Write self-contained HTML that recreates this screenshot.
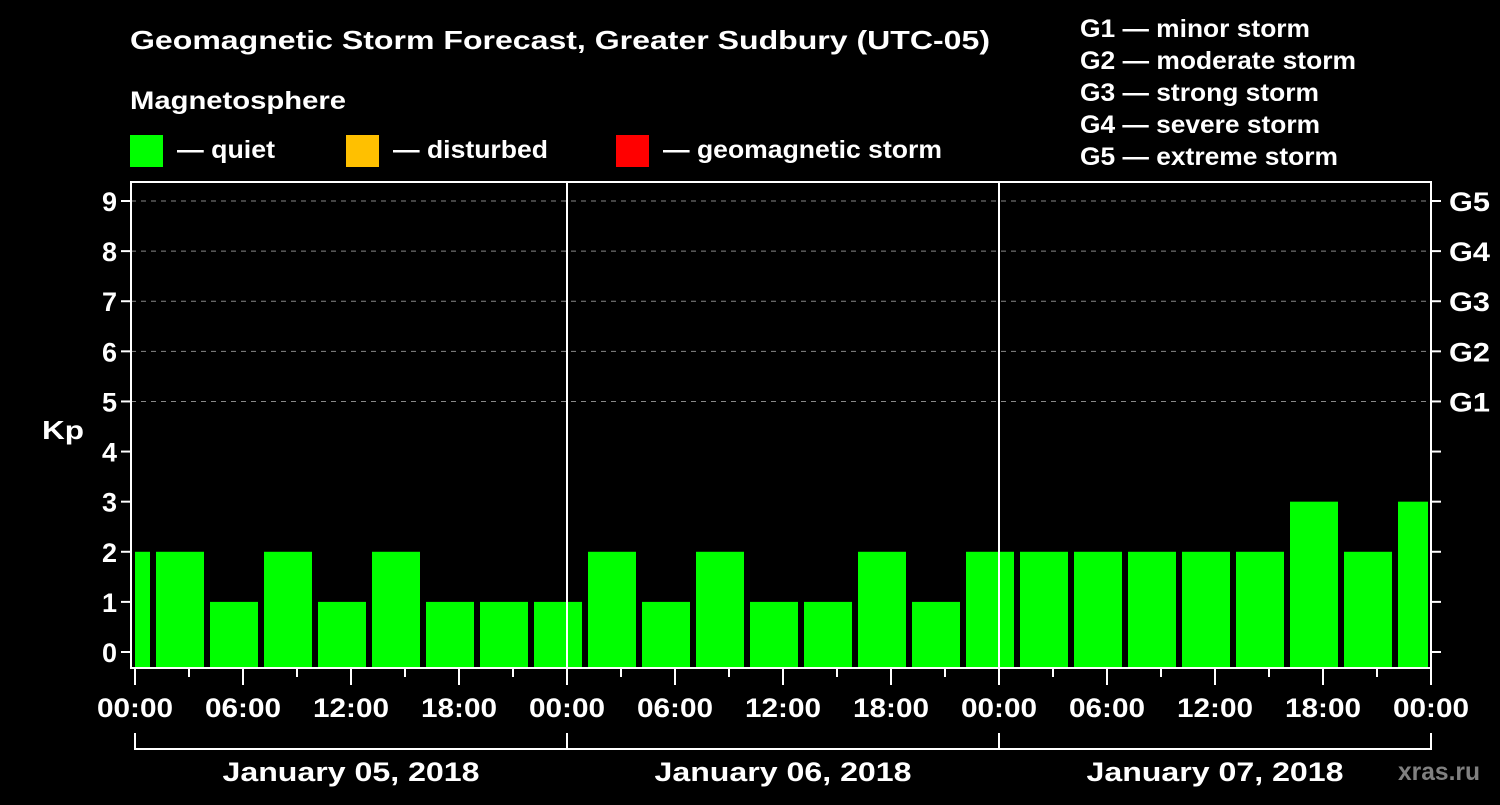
<!DOCTYPE html>
<html><head><meta charset="utf-8"><style>
body{margin:0;background:#000;width:1500px;height:800px;overflow:hidden}
svg text{font-family:"Liberation Sans",sans-serif;font-weight:bold;fill:#fff}
</style></head><body>
<svg id="c" width="1500" height="800">
<text x="130" y="49" font-size="26" textLength="860" lengthAdjust="spacingAndGlyphs">Geomagnetic Storm Forecast, Greater Sudbury (UTC-05)</text>
<text x="130" y="109" font-size="25" textLength="216" lengthAdjust="spacingAndGlyphs">Magnetosphere</text>
<rect x="130" y="135" width="33" height="32" fill="#00ff00"/>
<text x="177" y="158" font-size="25" textLength="98" lengthAdjust="spacingAndGlyphs">— quiet</text>
<rect x="346" y="135" width="33" height="32" fill="#ffc000"/>
<text x="393" y="158" font-size="25" textLength="155" lengthAdjust="spacingAndGlyphs">— disturbed</text>
<rect x="616" y="135" width="33" height="32" fill="#ff0000"/>
<text x="663" y="158" font-size="25" textLength="279" lengthAdjust="spacingAndGlyphs">— geomagnetic storm</text>
<g font-size="25">
<text x="1080" y="37" textLength="230" lengthAdjust="spacingAndGlyphs">G1 — minor storm</text>
<text x="1080" y="69" textLength="276" lengthAdjust="spacingAndGlyphs">G2 — moderate storm</text>
<text x="1080" y="101" textLength="239" lengthAdjust="spacingAndGlyphs">G3 — strong storm</text>
<text x="1080" y="133" textLength="240" lengthAdjust="spacingAndGlyphs">G4 — severe storm</text>
<text x="1080" y="165" textLength="258" lengthAdjust="spacingAndGlyphs">G5 — extreme storm</text>
</g>
<text x="42" y="439" font-size="26" textLength="42" lengthAdjust="spacingAndGlyphs">Kp</text>
<text x="1398" y="780" font-size="25" textLength="82" lengthAdjust="spacingAndGlyphs" style="fill:#808080">xras.ru</text>
<g id="grid"></g><g id="bars"></g><g id="axes"></g>
</svg>
<script>
const kpValues=[2,2,1,2,1,2,1,1,1,2,1,2,1,1,2,1,2,2,2,2,2,2,3,2,3];
const slotStartHours=[-2,1,4,7,10,13,16,19,22,25,28,31,34,37,40,43,46,49,52,55,58,61,64,67,70];
const yTicks=[0,1,2,3,4,5,6,7,8,9];
const gLabels=["G1","G2","G3","G4","G5"];
const xTickLabels=["00:00","06:00","12:00","18:00","00:00","06:00","12:00","18:00","00:00","06:00","12:00","18:00","00:00"];
const dayLabels=["January 05, 2018","January 06, 2018","January 07, 2018"];
const NS="http://www.w3.org/2000/svg";
const X0=135,PXH=18,Y0=652,PYK=50.11,L=131,R=1431,T=182,B=668;
const x=h=>X0+h*PXH, y=k=>Y0-k*PYK;
function mk(p,tag,a){const e=document.createElementNS(NS,tag);for(const k in a)e.setAttribute(k,a[k]);document.getElementById(p).appendChild(e);return e;}
for(let k=5;k<=9;k++){const e=mk('grid','line',{x1:L,x2:R,y1:y(k),y2:y(k),stroke:'#888','stroke-dasharray':'5,5'});

}
kpValues.forEach((v,i)=>{let a=x(slotStartHours[i])+3,b=x(slotStartHours[i]+3)-3;a=Math.max(a,X0);b=Math.min(b,R-3);
const e=mk('bars','rect',{x:a,y:y(v),width:b-a,height:B-y(v),fill:v>=5?'#ff0000':v>=4?'#ffc000':'#00ff00'});

});
const f=mk('axes','rect',{x:L,y:T,width:R-L,height:B-T,fill:'none',stroke:'#fff','stroke-width':2});


for(let d=1;d<3;d++){const e=mk('axes','line',{x1:x(24*d),x2:x(24*d),y1:T,y2:B,stroke:'#fff','stroke-width':2});

}
yTicks.forEach(k=>{mk('axes','line',{x1:L-10,x2:L,y1:y(k),y2:y(k),stroke:'#fff','stroke-width':2});
mk('axes','line',{x1:R,x2:R+10,y1:y(k),y2:y(k),stroke:'#fff','stroke-width':2});
const t=mk('axes','text',{x:L-14,y:y(k)+10,'font-size':27,'text-anchor':'end'});t.textContent=k;

});
gLabels.forEach((g,i)=>{const t=mk('axes','text',{x:R+18,y:y(5+i)+10,'font-size':27,textLength:41,lengthAdjust:'spacingAndGlyphs'});t.textContent=g;

});
for(let h=0;h<=72;h+=3){const major=h%6===0;mk('axes','line',{x1:x(h),x2:x(h),y1:B,y2:B+(major?17:9),stroke:'#fff','stroke-width':2});}
xTickLabels.forEach((s,i)=>{const t=mk('axes','text',{x:x(i*6),y:717,'font-size':27,'text-anchor':'middle',textLength:76,lengthAdjust:'spacingAndGlyphs'});t.textContent=s;

});
mk('axes','line',{x1:x(0),x2:x(72),y1:749,y2:749,stroke:'#fff','stroke-width':2});
for(let d=0;d<=3;d++)mk('axes','line',{x1:x(24*d),x2:x(24*d),y1:733,y2:750,stroke:'#fff','stroke-width':2});
dayLabels.forEach((s,i)=>{const t=mk('axes','text',{x:x(24*i+12),y:781,'font-size':27,'text-anchor':'middle',textLength:257,lengthAdjust:'spacingAndGlyphs'});t.textContent=s;

});
</script>
</body></html>
